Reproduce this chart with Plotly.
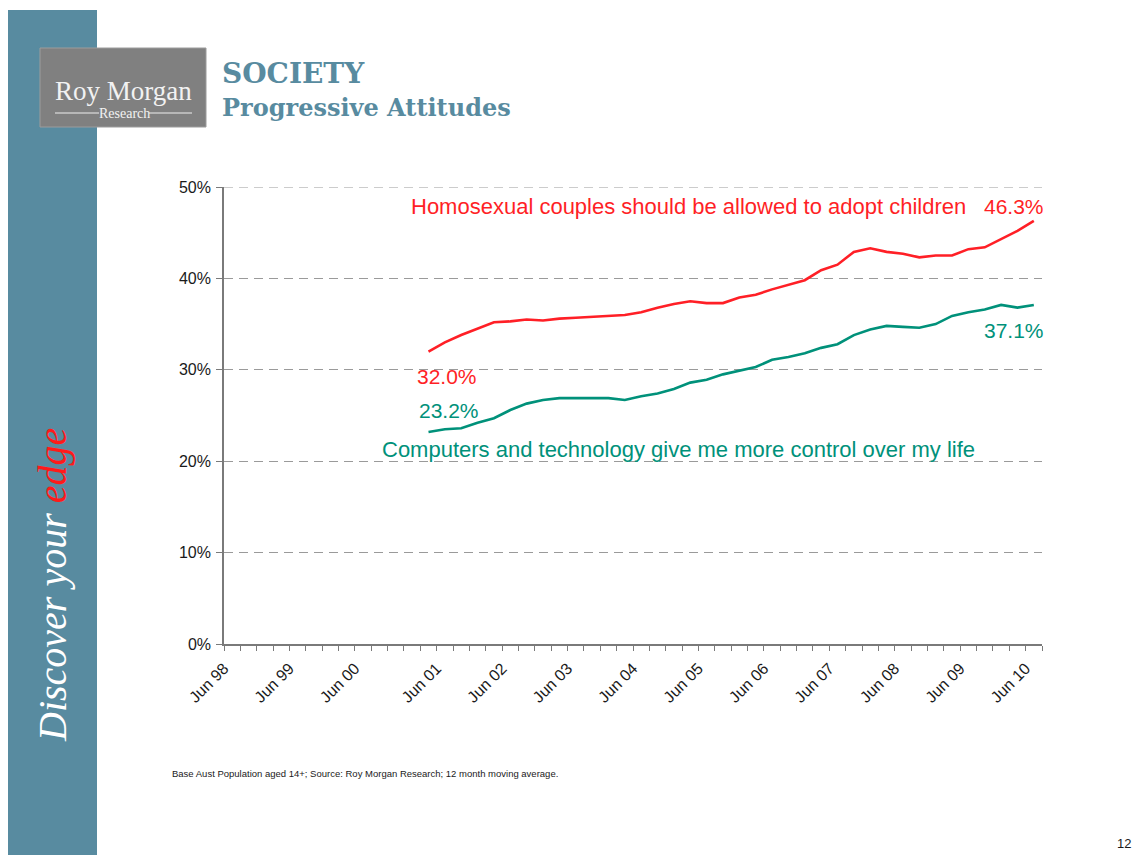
import plotly.graph_objects as go

# Quarterly slots on the category axis (0 = Jun 98 ... 49 = Jun 10)
tick_labels = ["Jun 98", "Jun 99", "Jun 00", "Jun 01", "Jun 02", "Jun 03", "Jun 04",
               "Jun 05", "Jun 06", "Jun 07", "Jun 08", "Jun 09", "Jun 10"]
tick_slots = [0, 4, 8, 13, 17, 21, 25, 29, 33, 37, 41, 45, 49]
n_slots = 50
first_slot = 12

y_ticks = [0, 10, 20, 30, 40, 50]
y_tick_labels = ["0%", "10%", "20%", "30%", "40%", "50%"]

adopt = [32.0, 33.0, 33.8, 34.5, 35.2, 35.3, 35.5, 35.4, 35.6, 35.7, 35.8, 35.9,
         36.0, 36.3, 36.8, 37.2, 37.5, 37.3, 37.3, 37.9, 38.2, 38.8, 39.3, 39.8,
         40.9, 41.5, 42.9, 43.3, 42.9, 42.7, 42.3, 42.5, 42.5, 43.2, 43.4, 44.3,
         45.2, 46.3]
tech = [23.2, 23.5, 23.6, 24.2, 24.7, 25.6, 26.3, 26.7, 26.9, 26.9, 26.9, 26.9,
        26.7, 27.1, 27.4, 27.9, 28.6, 28.9, 29.5, 29.9, 30.3, 31.1, 31.4, 31.8,
        32.4, 32.8, 33.8, 34.4, 34.8, 34.7, 34.6, 35.0, 35.9, 36.3, 36.6, 37.1,
        36.8, 37.1]

adopt_name = "Homosexual couples should be allowed to adopt children"
tech_name = "Computers and technology give me more control over my life"
footnote = "Base Aust Population aged 14+; Source: Roy Morgan Research; 12 month moving average."

RED = "#FF1F26"
TEAL = "#00917A"
STEEL = "#588BA0"
GRID = "#9a9a9a"
W, H = 1140, 855

x_vals = list(range(first_slot, first_slot + len(adopt)))


def px(x):
    return x / W


def py(y):
    return 1 - y / H


fig = go.Figure()
fig.add_trace(go.Scatter(x=x_vals, y=adopt, mode="lines",
                         line=dict(color=RED, width=2.6), showlegend=False))
fig.add_trace(go.Scatter(x=x_vals, y=tech, mode="lines",
                         line=dict(color=TEAL, width=2.6), showlegend=False))

sans = "Arial, Liberation Sans, sans-serif"
serif = "Liberation Serif, Times New Roman, serif"
slab = "DejaVu Serif, serif"

fig.update_xaxes(
    range=[-0.5, n_slots - 0.5],
    domain=[px(224), px(1042)],
    automargin=False,
    tickvals=[s - 0.5 for s in tick_slots],
    ticktext=tick_labels,
    tickangle=-45,
    ticks="",
    ticklabelstandoff=7,
    tickfont=dict(family=sans, size=16, color="#1a1a1a"),
    showgrid=False,
    zeroline=False,
    showline=True,
    linecolor="#7a7a7a",
    linewidth=1.6,
    minor=dict(tickvals=[i - 0.5 for i in range(n_slots + 1)], ticks="outside",
               ticklen=5, tickcolor="#7a7a7a", tickwidth=1.3, showgrid=False),
)
fig.update_yaxes(
    range=[0, 50],
    domain=[py(644), py(187)],
    automargin=False,
    tickvals=y_ticks,
    ticktext=y_tick_labels,
    ticks="outside",
    ticklen=6,
    tickcolor="#7a7a7a",
    ticklabelstandoff=2,
    tickfont=dict(family=sans, size=16, color="#1a1a1a"),
    showgrid=True,
    gridcolor=GRID,
    griddash="9px,6px",
    gridwidth=1,
    zeroline=False,
    showline=True,
    linecolor="#7a7a7a",
    linewidth=1.6,
)

shapes = [
    # side band
    dict(type="rect", xref="paper", yref="paper", x0=px(8), x1=px(97), y0=py(855), y1=py(10),
         fillcolor=STEEL, line=dict(width=0), layer="below"),
    # logo plate
    dict(type="rect", xref="paper", yref="paper", x0=px(40), x1=px(206), y0=py(127), y1=py(48),
         fillcolor="#808080", line=dict(color="#9c9c9c", width=1), layer="below"),
    dict(type="line", xref="paper", yref="paper", x0=px(55), x1=px(99), y0=py(113), y1=py(113),
         line=dict(color="#eeeeee", width=1)),
    dict(type="line", xref="paper", yref="paper", x0=px(149), x1=px(192), y0=py(113), y1=py(113),
         line=dict(color="#eeeeee", width=1)),
    # top gridline at the upper end of the value range
    dict(type="line", xref="x", yref="y", x0=-0.5, x1=n_slots - 0.5, y0=y_ticks[-1], y1=y_ticks[-1],
         line=dict(color=GRID, width=1, dash="9px,6px"), layer="below"),
]

annotations = [
    dict(text="Roy Morgan", x=px(123), y=py(91), font=dict(family=serif, size=27, color="#f2f2f2")),
    dict(text="Research", x=px(124), y=py(113), font=dict(family=serif, size=14, color="#f2f2f2")),
    dict(text="<b>SOCIETY</b>", x=px(220), y=py(73), xanchor="left",
         font=dict(family=slab, size=28, color=STEEL)),
    dict(text="<b>Progressive Attitudes</b>", x=px(220), y=py(108), xanchor="left",
         font=dict(family=slab, size=24, color=STEEL)),
    dict(text="<i>Discover your <span style='color:#ff1a1a'>edge</span></i>",
         x=px(52), y=py(585), textangle=-90,
         font=dict(family=serif, size=40, color="#ffffff")),
    dict(text=adopt_name, x=px(968), y=py(207), xanchor="right",
         font=dict(family=sans, size=22, color=RED)),
    dict(text=f"{adopt[-1]:.1f}%", x=px(1046), y=py(207), xanchor="right",
         font=dict(family=sans, size=21, color=RED)),
    dict(text=f"{adopt[0]:.1f}%", x=px(415), y=py(376), xanchor="left",
         font=dict(family=sans, size=21, color=RED)),
    dict(text=f"{tech[0]:.1f}%", x=px(417), y=py(410), xanchor="left",
         font=dict(family=sans, size=21, color=TEAL)),
    dict(text=f"{tech[-1]:.1f}%", x=px(1046), y=py(331), xanchor="right",
         font=dict(family=sans, size=21, color=TEAL)),
    dict(text=tech_name, x=px(380), y=py(449), xanchor="left",
         font=dict(family=sans, size=22, color=TEAL)),
    dict(text=footnote, x=px(170), y=py(773), xanchor="left",
         font=dict(family=sans, size=9.5, color="#1a1a1a")),
    dict(text="12", x=px(1133), y=py(843), xanchor="right",
         font=dict(family=sans, size=13, color="#1a1a1a")),
]
for a in annotations:
    a.update(xref="paper", yref="paper", showarrow=False)
    a.setdefault("xanchor", "center")
    a.setdefault("yanchor", "middle")

fig.update_layout(
    width=W, height=H,
    margin=dict(l=0, r=0, t=0, b=0, pad=0, autoexpand=False),
    paper_bgcolor="white",
    plot_bgcolor="white",
    shapes=shapes,
    annotations=annotations,
    showlegend=False,
)

fig.write_html("out.html")
